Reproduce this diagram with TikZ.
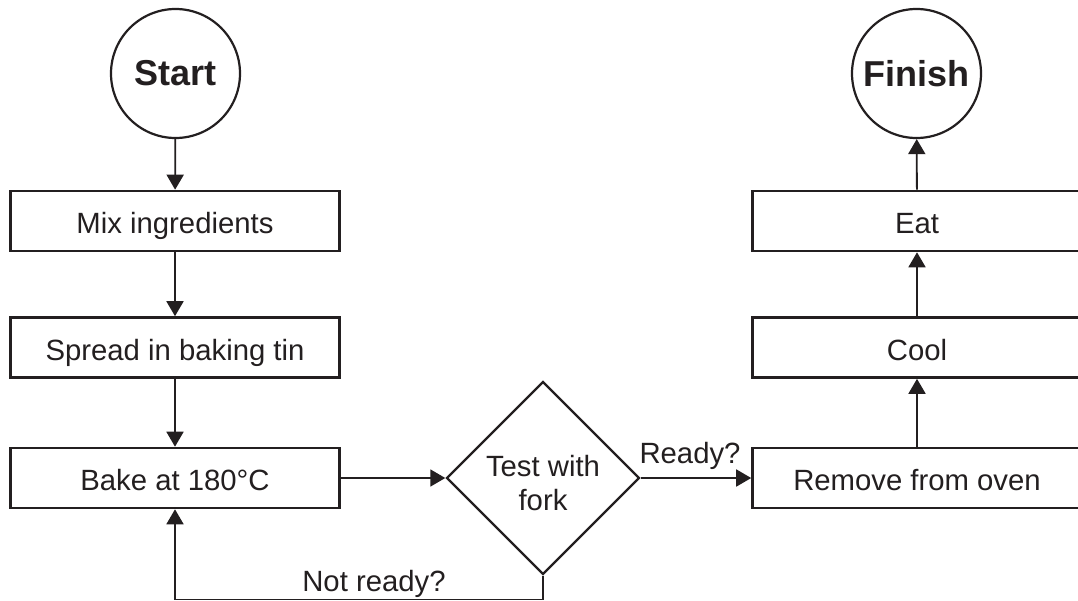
\documentclass[tikz,border=0pt]{standalone}
\usepackage{fontspec}
\setmainfont{Liberation Sans}
\usetikzlibrary{shapes.geometric,arrows.meta}
\definecolor{ink}{HTML}{231F20}
\tikzset{
  txt/.style={text=ink, font=\fontsize{29.3}{34}\selectfont},
  stepbox/.style={txt, draw=ink, line width=2.6pt, rectangle, minimum width=329pt, minimum height=60pt, inner sep=0pt,
    text height=25pt, text depth=0pt},
  term/.style={draw=ink, line width=2.2pt, circle, minimum size=129pt, inner sep=0pt,
    text=ink, font=\fontsize{36}{40}\selectfont\bfseries},
  decide/.style={draw=ink, line width=2.4pt, diamond, aspect=1, minimum width=193pt, minimum height=193pt, inner sep=0pt},
  lbl/.style={txt, inner sep=0pt},
  arr/.style={draw=ink, line width=1.8pt, -{Triangle[length=15pt,width=17pt]}},
}
\begin{document}
\begin{tikzpicture}[x=1pt,y=-1pt]
\useasboundingbox (0,0) rectangle (1078,600);
\clip (0,0) rectangle (1078,600);
\fill[white] (0,0) rectangle (1078,600);
% left column
\node[term] (start) at (175.5,73.5) {Start};
\node[stepbox] (mix) at (175,221) {Mix ingredients};
\node[stepbox] (spread) at (175,347.5) {Spread in baking tin};
\node[stepbox] (bake) at (175,478) {Bake at 180°C};
% decision
\node[decide] (test) at (543,478) {};
\node[lbl, align=center, anchor=base] (testtxt) at (543,510) {Test with\\fork};
% right column
\node[stepbox] (remove) at (917,478) {Remove from oven};
\node[stepbox] (cool) at (917,347.5) {Cool};
\node[stepbox] (eat) at (917,221) {Eat};
\node[term] (finish) at (916.5,73.5) {Finish};
% connectors
\draw[arr] (start) -- (mix);
\draw[arr] (mix) -- (spread);
\draw[arr] (spread) -- (bake);
\draw[arr] (bake) -- (test);
\draw[arr] (test) -- (remove);
\draw[arr] (remove) -- (cool);
\draw[arr] (cool) -- (eat);
\draw[arr] (eat) -- (finish);
\coordinate (loopy) at (0,599.5);
\draw[arr] (test.south) -- (test.south |- loopy) -| (bake.south);
% labels
\node[lbl, anchor=base] (ready) at (690,463) {Ready?};
\node[lbl, anchor=base] (notready) at (374,591) {Not ready?};
\end{tikzpicture}
\end{document}
